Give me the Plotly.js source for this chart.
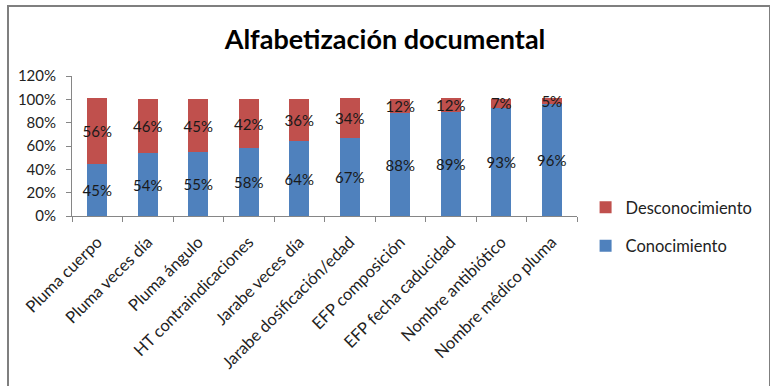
<!DOCTYPE html>
<html>
<head>
<meta charset="utf-8">
<script src="https://cdn.plot.ly/plotly-3.0.1.min.js"></script>
<style>
  html, body { margin: 0; padding: 0; background: #fff; overflow: hidden; }
  #wrap { position: relative; width: 770px; height: 386px; }
  #chart { position: absolute; left: 0; top: 0; width: 770px; height: 386px; }
  #frame { position: absolute; left: 7px; top: 5px; width: 760px; height: 400px;
           border: 2px solid #7f7f7f; border-right-width: 3px; pointer-events: none; }
</style>
</head>
<body>
<div id="wrap">
  <div id="chart"></div>
  <div id="frame"></div>
</div>
<script>
const categories = [
  "Pluma cuerpo", "Pluma veces día", "Pluma ángulo", "HT contraindicaciones",
  "Jarabe veces día", "Jarabe dosificación/edad", "EFP composición",
  "EFP fecha caducidad", "Nombre antibiótico", "Nombre médico pluma"
];
const conocimiento = [45, 54, 55, 58, 64, 67, 88, 89, 93, 96];
const desconocimiento = [56, 46, 45, 42, 36, 34, 12, 12, 7, 5];
const yTickVals = [0, 20, 40, 60, 80, 100, 120];
const yTickText = ["0%", "20%", "40%", "60%", "80%", "100%", "120%"];

const FONT = "Lato, 'Open Sans', sans-serif";

const traces = [
  {
    type: "bar", name: "Conocimiento", x: categories, y: conocimiento,
    text: conocimiento.map(v => v + "%"), textposition: "inside",
    insidetextanchor: "middle", textangle: 0, constraintext: "none",
    textfont: { family: FONT, size: 15, color: "#1a1a1a" },
    marker: { color: "#4F81BD" }, legendgroup: "b", legendrank: 2, hoverinfo: "none"
  },
  {
    type: "bar", name: "Desconocimiento", x: categories, y: desconocimiento,
    text: desconocimiento.map(v => v + "%"), textposition: "inside",
    insidetextanchor: "middle", textangle: 0, constraintext: "none",
    textfont: { family: FONT, size: 15, color: "#1a1a1a" },
    marker: { color: "#C0504D" }, legendgroup: "a", legendrank: 1, hoverinfo: "none"
  }
];

const layout = {
  width: 770, height: 386,
  margin: { l: 72, r: 184, t: 76, b: 170 },
  paper_bgcolor: "#ffffff", plot_bgcolor: "#ffffff",
  barmode: "stack", bargap: 0.61,
  font: { family: FONT, size: 14, color: "#222" },
  title: {
    text: "<b>Alfabetización documental</b>",
    font: { family: FONT, size: 27, color: "#000" },
    x: 0.5, xref: "container", xanchor: "center",
    y: 1 - 40 / 386, yref: "container", yanchor: "middle"
  },
  xaxis: {
    type: "category", tickangle: -45, tickson: "boundaries",
    ticks: "outside", ticklen: 5, tickcolor: "#868686",
    showline: true, linecolor: "#868686", linewidth: 1,
    showgrid: false, zeroline: false, ticklabelstandoff: 9,
    tickfont: { family: FONT, size: 16.5, color: "#222" }
  },
  yaxis: {
    range: [0, 120], tickvals: yTickVals, ticktext: yTickText,
    ticks: "outside", ticklen: 5, tickcolor: "#868686",
    showline: true, linecolor: "#868686", linewidth: 1,
    showgrid: false, zeroline: false, ticklabelstandoff: 7,
    tickfont: { family: FONT, size: 15, color: "#222" }
  },
  legend: {
    x: 1.017, xanchor: "left", y: 0.185, yanchor: "top",
    traceorder: "grouped", tracegroupgap: 14,
    font: { family: FONT, size: 16.5, color: "#222" },
    bgcolor: "rgba(0,0,0,0)"
  },
  showlegend: true
};

Plotly.newPlot("chart", traces, layout, { staticPlot: true, displayModeBar: false });
</script>
</body>
</html>
